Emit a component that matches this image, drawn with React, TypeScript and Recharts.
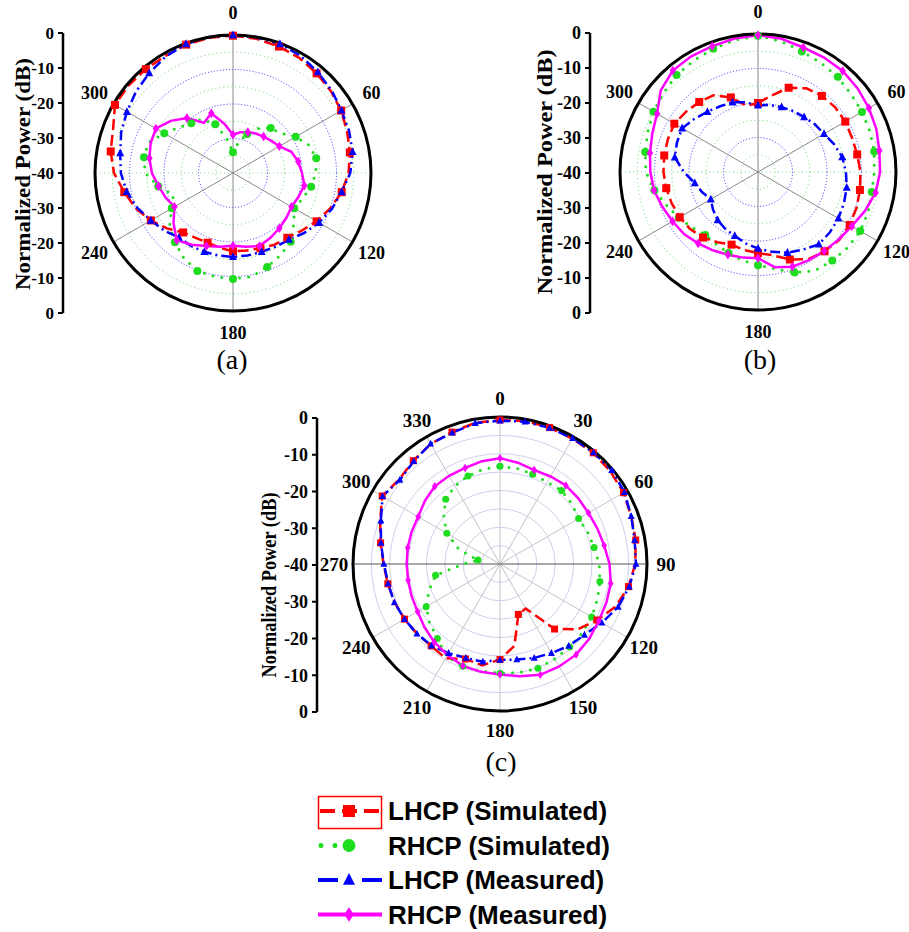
import React from 'react';
import {
  RadarChart,
  Radar,
  PolarGrid,
  PolarAngleAxis,
  PolarRadiusAxis,
  LineChart,
  XAxis,
  YAxis,
} from 'recharts';

// angle of each sample, degrees clockwise from the top
const angles = [0, 10, 20, 30, 40, 50, 60, 70, 80, 90, 100, 110, 120, 130, 140, 150, 160, 170,
  180, 190, 200, 210, 220, 230, 240, 250, 260, 270, 280, 290, 300, 310, 320, 330, 340, 350];

// panel (a), dB
const aLhcpSim = [-0.2, -0.5, -1, -1.5, -2.3, -3, -3.8, -4.8, -5.6, -6.5, -8, -10, -12, -14, -15.5, -16, -16.8, -17.2,
  -17.3, -18, -18.5, -18.3, -17.5, -15, -12.5, -10, -8, -5.5, -4, -3, -0.5, -0.5, -0.7, -0.8, -0.4, -0.2];
const aRhcpSim = [-34, -31, -28, -25, -23, -22, -19, -16.5, -15.5, -16, -17, -18.5, -19.5, -17, -14, -12.5, -11, -9.5,
  -9.3, -9.5, -9.8, -11.5, -13.8, -16, -19.5, -21.6, -18, -14.5, -13.8, -14, -17, -19.5, -21.2, -22, -25, -30];
const aLhcpMeas = [0, -0.1, -0.2, -0.8, -1.8, -2.7, -3.7, -4.2, -4.8, -6, -8, -9.5, -11.2, -13, -14.8, -15.3, -15.7, -15.7,
  -15.7, -15.7, -15.7, -15.6, -15.6, -14, -12.5, -10.5, -8.7, -7.5, -6.8, -5.5, -4.5, -3.3, -2.2, -1, -0.2, 0];
const aRhcpMeas = [-28.9, -28, -27.4, -26.8, -26.2, -25.5, -24.5, -22, -20.8, -20, -19, -19.8, -20.4, -19.8, -19.1, -18.3, -17.5, -18.3,
  -18.9, -18.3, -17.5, -16, -14.6, -17.5, -20.4, -19.2, -18.1, -16.5, -15.4, -14.6, -14.2, -16.5, -19.2, -23.2, -21.6, -25.5];

// panel (b), dB
const bLhcpSim = [-20, -17.5, -14, -12, -11.2, -10.8, -10.8, -11, -10.8, -10.3, -10, -9.6, -9.3, -9.3, -10, -10.8, -13, -15.5,
  -16.5, -17, -17.6, -16.5, -15.2, -14.3, -13.8, -13.4, -13, -12.6, -12.4, -12.2, -12, -12.8, -13.5, -14.3, -17, -20.5];
const bRhcpSim = [-0.5, -1.5, -2.8, -3.5, -4, -4.8, -5.2, -5.5, -5.8, -6.3, -6.5, -6, -5.8, -6, -6.5, -7, -9, -11.5,
  -13, -14, -15, -15.8, -16.2, -15, -13.5, -11.8, -9.5, -7.5, -6.8, -6, -5, -4.3, -3.3, -2.7, -2, -1.2];
const bLhcpMeas = [-20.7, -20.3, -20, -19.6, -19.2, -18.5, -17.9, -16.5, -15.2, -14.5, -13.9, -13.5, -13.1, -12.8, -12.6, -14, -15.1, -16.5,
  -17.8, -19, -20.3, -21, -21.8, -23, -24.2, -22.8, -21.4, -18.5, -15.5, -15, -14.6, -16, -17.2, -18, -18.5, -19.5];
const bRhcpMeas = [-0.3, -0.8, -1.6, -1.7, -1.8, -2.3, -2.9, -3.5, -4.3, -4.6, -5.4, -7, -8.6, -9.5, -10.1, -10.5, -10.8, -12,
  -15, -14.8, -14.5, -13.8, -13, -12, -11.4, -10.5, -9.4, -8.8, -8.2, -7.4, -6.2, -3.2, -1.6, -1.3, -1.2, -0.7];

// panel (c), dB
const cLhcpSim = [-0.8, -0.5, -0.5, -0.6, -0.5, -0.8, -1.2, -2, -2.5, -3.2, -4.5, -6.4, -9.5, -12.4, -16.9, -26, -25.4, -17.4,
  -14, -12, -12.5, -10.4, -10.9, -10.5, -10, -9.5, -9, -8.3, -7, -5.3, -3, -4.2, -3.3, -2.3, -1.8, -1];
const cRhcpSim = [-13.4, -13.6, -14, -14.3, -13.9, -14.5, -15.3, -14.6, -14, -13, -12.4, -11.8, -11.2, -10.8, -10.5, -10.2, -9.8, -10,
  -10.3, -10.4, -10.4, -11, -13.5, -15, -16.8, -19.5, -22.2, -30, -33.9, -28, -23.3, -20, -17, -15.5, -14.5, -13.8];
const cLhcpMeas = [-1, -0.7, -0.6, -0.5, -0.4, -0.3, -0.9, -2, -2.8, -3, -4.3, -5.8, -8, -10, -10.9, -12, -12.8, -13.6,
  -13.9, -13, -12.8, -12, -11, -10.5, -10, -9.4, -9.1, -8.4, -7.1, -5.5, -3.1, -4.4, -3.5, -2.2, -2, -1.1];
const cRhcpMeas = [-11.2, -12, -12.8, -12.5, -12.1, -12.2, -12.2, -11.8, -11.2, -10.2, -9.4, -9.2, -9, -8.3, -7.8, -7.8, -7.9, -9,
  -9.9, -10.2, -10.5, -11.4, -12.2, -13.2, -14.1, -14.4, -14.6, -14.6, -14.5, -14.4, -14.3, -13.3, -12.4, -12.3, -12.2, -11.6];

// left axis runs 0 .. -40 .. 0, so it is a folded 0..80 scale
const foldTicks = [0, 10, 20, 30, 40, 50, 60, 70, 80];
const seriesKeys = ['lhcpSim', 'rhcpSim', 'lhcpMeas', 'rhcpMeas'];
const seriesNames = ['LHCP (Simulated)', 'RHCP (Simulated)', 'LHCP (Measured)', 'RHCP (Measured)'];
const panelNames = ['(a)', '(b)', '(c)'];
const yTitle = 'Normalized Power (dB)';

const SERIF = '"Liberation Serif", "Times New Roman", serif';
const SANS = '"Liberation Sans", Arial, sans-serif';

const RED = '#ff0000';
const GREEN = '#1edc1e';
const BLUE = '#0000ff';
const MAGENTA = '#ff00ff';

const STYLES = {
  lhcpSim: { color: RED, dash: '11 5', width: 2.5, shape: 'square' },
  rhcpSim: { color: GREEN, dash: '0 9', width: 3, shape: 'circle' },
  lhcpMeas: { color: BLUE, dash: '10 4 2 4', width: 2.5, shape: 'triangle' },
  rhcpMeas: { color: MAGENTA, dash: undefined, width: 2.5, shape: 'diamond' },
};
const drawOrder = ['rhcpSim', 'lhcpSim', 'lhcpMeas', 'rhcpMeas'];

const buildRows = (lhcpSim, rhcpSim, lhcpMeas, rhcpMeas) =>
  angles.map((angle, i) => ({
    angle,
    lhcpSim: lhcpSim[i],
    rhcpSim: rhcpSim[i],
    lhcpMeas: lhcpMeas[i],
    rhcpMeas: rhcpMeas[i],
  }));

const Marker = ({ shape, x, y, size, color }) => {
  const h = size / 2;
  if (shape === 'square') return <rect x={x - h} y={y - h} width={size} height={size} fill={color} />;
  if (shape === 'circle') return <circle cx={x} cy={y} r={h} fill={color} />;
  if (shape === 'triangle')
    return <polygon points={`${x},${y - h * 1.15} ${x + h},${y + h * 0.8} ${x - h},${y + h * 0.8}`} fill={color} />;
  return <polygon points={`${x},${y - h * 1.2} ${x + h * 0.8},${y} ${x},${y + h * 1.2} ${x - h * 0.8},${y}`} fill={color} />;
};

// compass degrees -> recharts polar degrees
const toPolar = (deg) => 90 - deg;

const PolarPanel = ({ left, top, width, height, cx, cy, R, rows, labelEvery, labelSize, labelGap, spokes, grids, markerSize, steps }) => {
  const radiusOf = (v) => (R * (v + 40)) / 40;
  const renderTick = (p) => {
    const v = Number(p.payload.value);
    if (v % labelEvery !== 0) return <g key={`t${p.index}`} />;
    const dx = p.x - cx;
    const dy = p.y - cy;
    const len = Math.hypot(dx, dy) || 1;
    const rl = R + labelGap;
    return (
      <text
        key={`t${p.index}`}
        x={cx + (dx / len) * rl}
        y={cy + (dy / len) * rl}
        textAnchor="middle"
        dominantBaseline="central"
        fontFamily={SERIF}
        fontWeight={700}
        fontSize={labelSize}
        fill="#000"
      >
        {v}
      </text>
    );
  };

  return (
    <div style={{ position: 'absolute', left, top }}>
      <RadarChart width={width} height={height} cx={cx} cy={cy} outerRadius={R} data={rows}
        margin={{ top: 0, right: 0, bottom: 0, left: 0 }}>
        {grids.map((g, i) => (
          <PolarGrid key={`c${i}`} gridType="circle" radialLines={false} polarAngles={[]}
            polarRadius={g.values.map(radiusOf)} stroke={g.stroke} strokeDasharray={g.dash} strokeWidth={g.width} />
        ))}
        {spokes.map((s, i) => (
          <PolarGrid key={`s${i}`} gridType="circle" polarRadius={[]} polarAngles={s.angles.map(toPolar)}
            stroke={s.stroke} strokeDasharray={s.dash} strokeWidth={s.width} />
        ))}
        <PolarAngleAxis dataKey="angle" tickLine={false} axisLineType="circle"
          axisLine={{ stroke: '#000', strokeWidth: 3 }} tick={renderTick} />
        <PolarRadiusAxis type="number" domain={[-40, 0]} allowDataOverflow tick={false} axisLine={false} />
        {drawOrder.map((k) => {
          const st = STYLES[k];
          const step = steps[k];
          return (
            <Radar
              key={k}
              dataKey={k}
              stroke={st.color}
              strokeWidth={st.width}
              strokeDasharray={st.dash}
              strokeLinecap={k === 'rhcpSim' ? 'round' : 'butt'}
              fill="none"
              fillOpacity={0}
              isAnimationActive={false}
              dot={(p) =>
                p.index % step === 0 ? (
                  <Marker key={`${k}${p.index}`} shape={st.shape} x={p.cx} y={p.cy} size={markerSize} color={st.color} />
                ) : (
                  <g key={`${k}${p.index}`} />
                )
              }
            />
          );
        })}
      </RadarChart>
    </div>
  );
};

const foldLabel = (v) => {
  const d = Math.abs(v - 40) - 40;
  return d === 0 ? '0' : String(d);
};

const FoldAxis = ({ axisX, top, span, fontSize, titleX, titleY, titleLen }) => {
  const pad = 12;
  const rows = [{ p: 0 }, { p: 1 }];
  const Title = () => (
    <text
      transform={`translate(${titleX},${titleY - (top - pad)}) rotate(-90)`}
      textAnchor="middle"
      dominantBaseline="central"
      fontFamily={SERIF}
      fontWeight={700}
      fontSize={22}
      textLength={titleLen}
      lengthAdjust="spacingAndGlyphs"
      fill="#000"
    >
      {yTitle}
    </text>
  );
  return (
    <div style={{ position: 'absolute', left: 0, top: top - pad }}>
      <LineChart width={axisX + 20} height={span + 2 * pad} data={rows} margin={{ top: pad, right: 0, bottom: pad, left: 0 }}>
        <XAxis dataKey="p" hide />
        <YAxis
          type="number"
          domain={[0, 80]}
          allowDataOverflow
          ticks={foldTicks}
          interval={0}
          width={axisX}
          tickSize={5}
          tickMargin={4}
          tickFormatter={foldLabel}
          tick={{ fill: '#000', fontFamily: SERIF, fontWeight: 700, fontSize }}
          tickLine={{ stroke: '#000', strokeWidth: 2 }}
          axisLine={{ stroke: '#000', strokeWidth: 2.5 }}
          label={{ content: Title }}
        />
      </LineChart>
    </div>
  );
};

const abGrids = [
  { values: [-35, -25, -15, -5], stroke: '#5fd85f', dash: '1 3', width: 1 },
  { values: [-30, -20, -10], stroke: '#3030ff', dash: '1 2', width: 1 },
];
const abSpokes = [
  { angles: [90, 270], stroke: '#7fdc7f', dash: '1 3', width: 1 },
  { angles: [0, 60, 120, 180, 240, 300], stroke: '#8a8a8a', dash: undefined, width: 1 },
];
const cGrids = [
  { values: [-35, -30, -25, -20, -15, -10, -5], stroke: '#cfd0ea', dash: undefined, width: 1 },
];
const cSpokes = [
  { angles: [0, 30, 60, 120, 150, 180, 210, 240, 300, 330], stroke: '#c4c4c4', dash: undefined, width: 1 },
  { angles: [90, 270], stroke: '#555', dash: undefined, width: 1 },
];

const LegendBox = () => {
  const rowY = (i) => 31 + i * 34.5;
  return (
    <svg style={{ position: 'absolute', left: 300, top: 780, overflow: 'visible' }} width={330} height={152}>
      <rect x={18.5} y={16.5} width={63} height={32} fill="none" stroke={RED} strokeWidth={1.5} />
      {seriesKeys.map((k, i) => {
        const st = STYLES[k];
        const y = rowY(i);
        let line;
        if (k === 'lhcpSim') line = <line x1={20} x2={80} y1={y} y2={y} stroke={st.color} strokeWidth={4} strokeDasharray="15 7" />;
        else if (k === 'rhcpSim') line = <line x1={21} x2={63} y1={y} y2={y} stroke={st.color} strokeWidth={5} strokeLinecap="round" strokeDasharray="0 14" />;
        else if (k === 'lhcpMeas') line = <line x1={18} x2={82} y1={y} y2={y} stroke={st.color} strokeWidth={4} strokeDasharray="20 24 20" />;
        else line = <line x1={18} x2={82} y1={y} y2={y} stroke={st.color} strokeWidth={4} />;
        return (
          <g key={k}>
            {line}
            <Marker shape={st.shape} x={49} y={y} size={k === 'rhcpSim' ? 13 : 12} color={st.color} />
            <text x={88} y={y + 9} fontFamily={SANS} fontWeight={700} fontSize={26} fill="#000">
              {seriesNames[i]}
            </text>
          </g>
        );
      })}
    </svg>
  );
};

const Caption = ({ x, y, text }) => (
  <div style={{ position: 'absolute', left: x - 40, top: y, width: 80, textAlign: 'center', fontFamily: SERIF, fontSize: 28, lineHeight: '28px', color: '#000' }}>
    {text}
  </div>
);

export default function App() {
  const abSteps = { lhcpSim: 2, rhcpSim: 2, lhcpMeas: 2, rhcpMeas: 2 };
  const cSteps = { lhcpSim: 2, rhcpSim: 2, lhcpMeas: 1, rhcpMeas: 2 };
  return (
    <div style={{ position: 'absolute', left: 0, top: 0, width: 909, height: 932, background: '#fff', overflow: 'hidden' }}>
      <PolarPanel left={0} top={0} width={420} height={350} cx={233} cy={173} R={138}
        rows={buildRows(aLhcpSim, aRhcpSim, aLhcpMeas, aRhcpMeas)} labelEvery={60} labelSize={18} labelGap={22}
        spokes={abSpokes} grids={abGrids} markerSize={8} steps={abSteps} />
      <FoldAxis axisX={63} top={33} span={280} fontSize={17} titleX={22} titleY={174} titleLen={232} />

      <PolarPanel left={500} top={0} width={409} height={350} cx={258} cy={172} R={138}
        rows={buildRows(bLhcpSim, bRhcpSim, bLhcpMeas, bRhcpMeas)} labelEvery={60} labelSize={18} labelGap={22}
        spokes={abSpokes} grids={abGrids} markerSize={8} steps={abSteps} />
      <FoldAxis axisX={590} top={33} span={280} fontSize={18} titleX={544} titleY={172} titleLen={245} />

      <PolarPanel left={300} top={385} width={400} height={365} cx={200} cy={179} R={147}
        rows={buildRows(cLhcpSim, cRhcpSim, cLhcpMeas, cRhcpMeas)} labelEvery={30} labelSize={19} labelGap={19}
        spokes={cSpokes} grids={cGrids} markerSize={7} steps={cSteps} />
      <FoldAxis axisX={317} top={418} span={294} fontSize={18} titleX={268} titleY={585} titleLen={185} />

      <Caption x={232} y={346} text={panelNames[0]} />
      <Caption x={760} y={346} text={panelNames[1]} />
      <Caption x={501} y={748} text={panelNames[2]} />
      <LegendBox />
    </div>
  );
}
